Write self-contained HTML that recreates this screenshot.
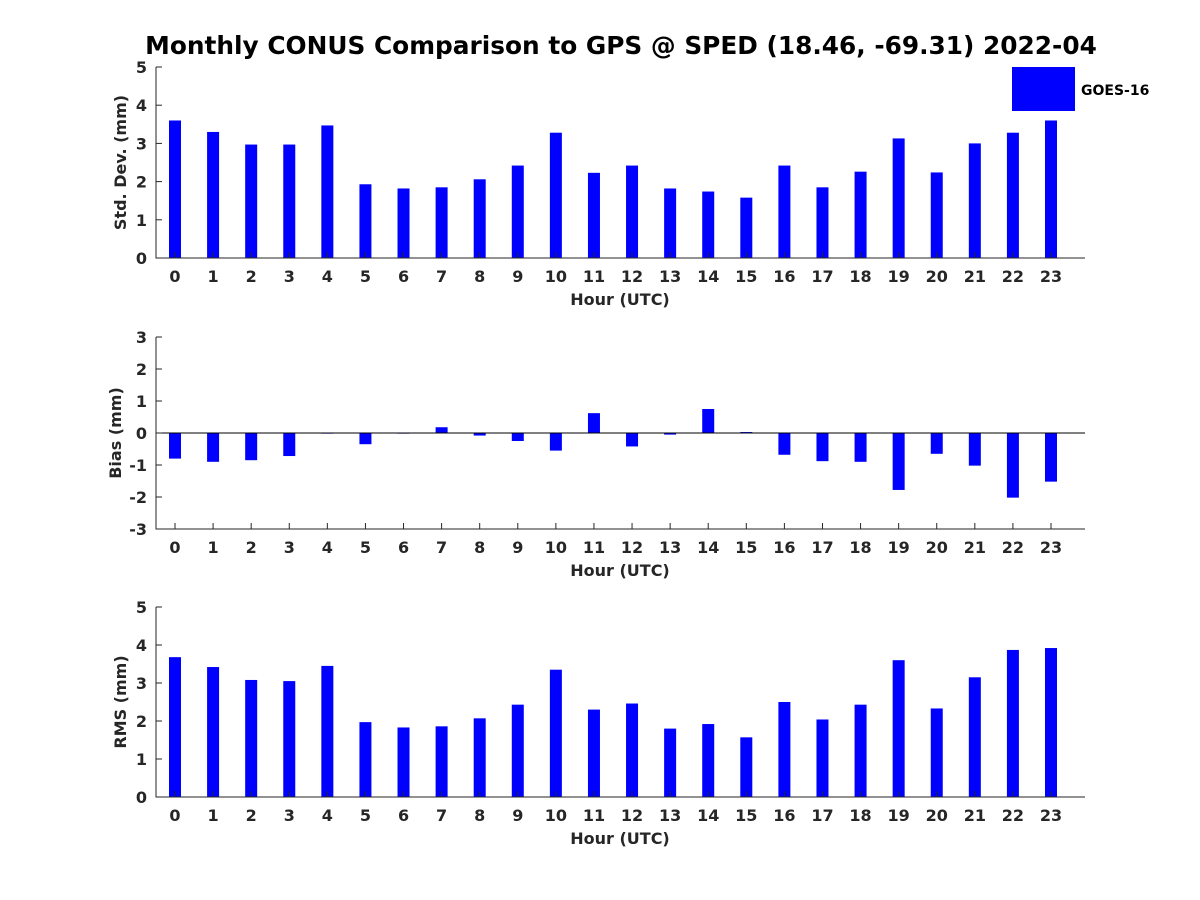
<!DOCTYPE html>
<html><head><meta charset="utf-8"><style>body{margin:0;background:#fff}svg{display:block;font-family:"DejaVu Sans","Liberation Sans",sans-serif}</style></head>
<body>
<svg id="c" width="1200" height="900">
<text x="621" y="54" text-anchor="middle" font-size="24.8" font-weight="bold" fill="#000">Monthly CONUS Comparison to GPS @ SPED (18.46, -69.31) 2022-04</text>
<rect x="1012" y="67" width="63" height="44" fill="#0000ff"/>
<text x="1081" y="95" font-size="14" font-weight="bold" fill="#000">GOES-16</text>
</svg>
<script>
const hours=[0,1,2,3,4,5,6,7,8,9,10,11,12,13,14,15,16,17,18,19,20,21,22,23];
const stdVals=[3.6,3.3,2.97,2.97,3.47,1.93,1.82,1.85,2.06,2.42,3.28,2.23,2.42,1.82,1.74,1.58,2.42,1.85,2.26,3.13,2.24,3.0,3.28,3.6];
const biasVals=[-0.8,-0.9,-0.85,-0.72,-0.02,-0.35,-0.02,0.18,-0.08,-0.25,-0.55,0.62,-0.42,-0.05,0.75,0.03,-0.68,-0.88,-0.9,-1.78,-0.65,-1.02,-2.02,-1.52];
const rmsVals=[3.68,3.42,3.08,3.05,3.45,1.97,1.83,1.86,2.07,2.43,3.35,2.3,2.46,1.8,1.92,1.57,2.5,2.04,2.43,3.6,2.33,3.15,3.87,3.92];
const stdTicks=[0,1,2,3,4,5];
const biasTicks=[-3,-2,-1,0,1,2,3];
const rmsTicks=[0,1,2,3,4,5];
const svg=document.getElementById('c');
const NS='http://www.w3.org/2000/svg';
function mk(t,a){const e=document.createElementNS(NS,t);for(const k in a)e.setAttribute(k,a[k]);svg.appendChild(e);return e;}
const X0=156,X1=1085;
function xs(h){return 175+h*(1051-175)/23;}
function panel(name,vals,ticks,top,bot,ymin,ymax,ylabel,ylx){
  const ys=v=>bot-(v-ymin)/(ymax-ymin)*(bot-top);
  vals.forEach((v,i)=>{
    const a=ys(v),y=Math.min(a,ys(0)),h=Math.abs(a-ys(0));
    const r=mk('rect',{x:xs(hours[i])-6,y:y,width:12,height:Math.max(h,0.5),fill:'#0000ff'});
    
    
  });
  if(ymin<0){const z=mk('line',{x1:X0,x2:X1,y1:ys(0),y2:ys(0),stroke:'#000','stroke-width':1});
    }
  const ax=mk('path',{d:`M${X0},${top}V${bot}H${X1}`,fill:'none',stroke:'#262626','stroke-width':1});
  
  ticks.forEach(t=>{
    mk('line',{x1:X0,x2:X0+6,y1:ys(t),y2:ys(t),stroke:'#262626'});
    const l=mk('text',{x:X0-9,y:ys(t)+6,'text-anchor':'end','font-size':16,'font-weight':'bold',fill:'#262626'});
    l.textContent=t;
    
  });
  hours.forEach(h=>{
    mk('line',{x1:xs(h),x2:xs(h),y1:bot,y2:bot-6,stroke:'#262626'});
    const l=mk('text',{x:xs(h),y:bot+24,'text-anchor':'middle','font-size':16,'font-weight':'bold',fill:'#262626'});
    l.textContent=h;
    
  });
  const xl=mk('text',{x:620,y:bot+47,'text-anchor':'middle','font-size':16,'font-weight':'bold',fill:'#262626'});
  xl.textContent='Hour (UTC)';
  
  const cy=(top+bot)/2;
  const yl=mk('text',{x:0,y:0,transform:`translate(${ylx},${cy}) rotate(-90)`,'text-anchor':'middle','font-size':16,'font-weight':'bold',fill:'#262626'});
  yl.textContent=ylabel;
  
}
panel('std',stdVals,stdTicks,67,258,0,5,'Std. Dev. (mm)',126);
panel('bias',biasVals,biasTicks,337,529,-3,3,'Bias (mm)',121);
panel('rms',rmsVals,rmsTicks,607,797,0,5,'RMS (mm)',126);
</script>
</body></html>
